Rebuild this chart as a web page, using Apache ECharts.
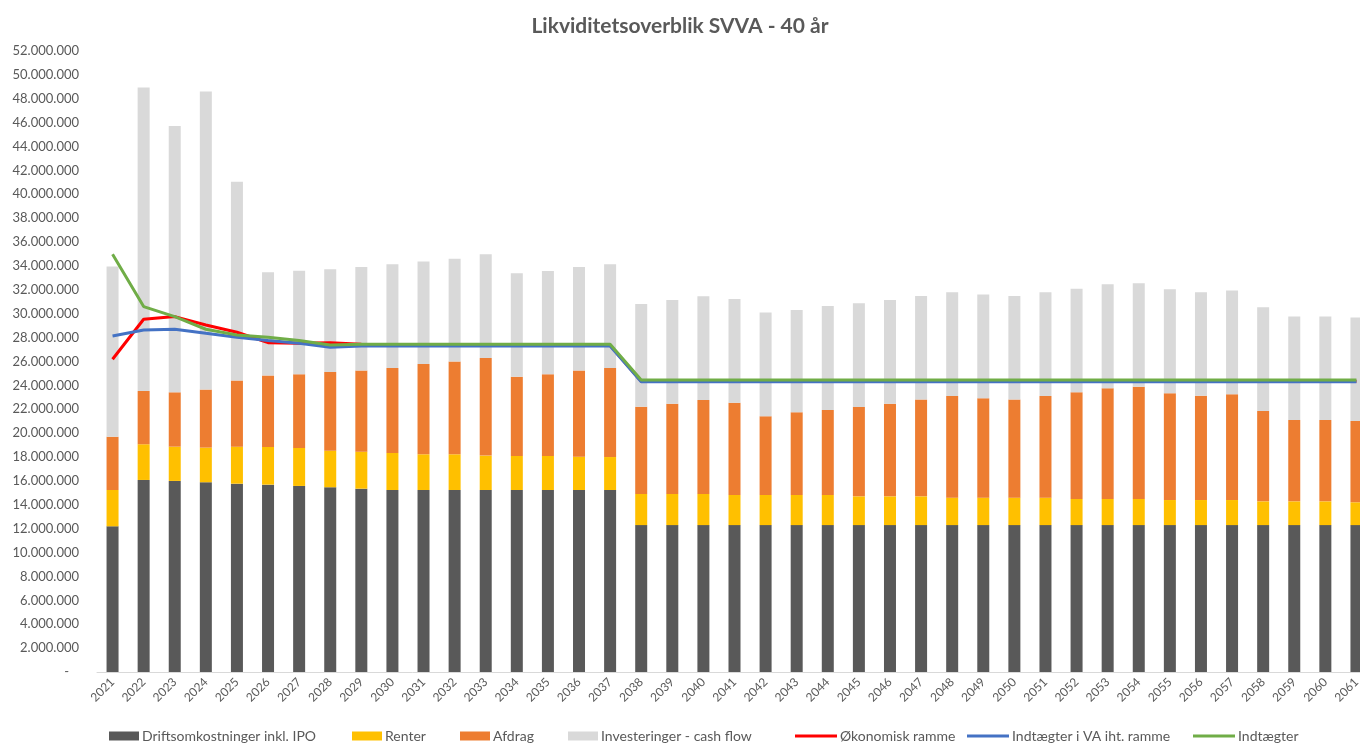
<!DOCTYPE html>
<html>
<head>
<meta charset="utf-8">
<title>Likviditetsoverblik SVVA - 40 år</title>
<script src="https://cdn.jsdelivr.net/npm/echarts@6/dist/echarts.min.js"></script>
<style>
  html, body { margin: 0; padding: 0; background: #ffffff; }
  #chart { width: 1360px; height: 744px; }
</style>
</head>
<body>
<div id="chart"></div>
<script>
// Years on the category axis
const years = [
  '2021','2022','2023','2024','2025','2026','2027','2028','2029','2030',
  '2031','2032','2033','2034','2035','2036','2037','2038','2039','2040',
  '2041','2042','2043','2044','2045','2046','2047','2048','2049','2050',
  '2051','2052','2053','2054','2055','2056','2057','2058','2059','2060','2061'
];

// Stacked cost components, in millions kr.
const driftsomkostninger = [
  12.20, 16.08, 16.00, 15.89, 15.77, 15.69, 15.58, 15.47, 15.35, 15.24,
  15.24, 15.24, 15.24, 15.24, 15.24, 15.24, 15.24, 12.30, 12.30, 12.30,
  12.30, 12.30, 12.30, 12.30, 12.30, 12.30, 12.30, 12.30, 12.30, 12.30,
  12.30, 12.30, 12.30, 12.30, 12.30, 12.30, 12.30, 12.30, 12.30, 12.30, 12.30
];
const renter = [
  3.04, 2.99, 2.87, 2.90, 3.10, 3.15, 3.18, 3.06, 3.10, 3.10,
  2.99, 2.99, 2.88, 2.85, 2.85, 2.79, 2.76, 2.61, 2.61, 2.61,
  2.52, 2.52, 2.52, 2.52, 2.41, 2.41, 2.41, 2.30, 2.30, 2.30,
  2.30, 2.19, 2.19, 2.19, 2.10, 2.10, 2.10, 1.99, 1.99, 1.99, 1.91
];
const afdrag = [
  4.46, 4.46, 4.55, 4.86, 5.53, 5.98, 6.17, 6.60, 6.79, 7.12,
  7.57, 7.76, 8.18, 6.64, 6.84, 7.21, 7.46, 7.31, 7.56, 7.87,
  7.73, 6.59, 6.93, 7.12, 7.48, 7.76, 8.10, 8.52, 8.32, 8.21,
  8.52, 8.93, 9.26, 9.40, 8.94, 8.74, 8.86, 7.57, 6.81, 6.81, 6.81
];
const investeringer = [
  14.25, 25.41, 22.31, 24.95, 16.66, 8.65, 8.67, 8.59, 8.68, 8.68,
  8.57, 8.61, 8.68, 8.66, 8.65, 8.68, 8.68, 8.60, 8.69, 8.68,
  8.69, 8.69, 8.57, 8.71, 8.68, 8.69, 8.68, 8.68, 8.68, 8.68,
  8.68, 8.68, 8.72, 8.66, 8.71, 8.66, 8.68, 8.68, 8.66, 8.66, 8.66
];

// Income / frame lines, in millions kr.
const oekonomiskRamme = [
  26.19, 29.54, 29.76, 29.06, 28.45, 27.58, 27.53, 27.58, 27.45, 27.35,
  27.35, 27.35, 27.35, 27.35, 27.35, 27.35, 27.35, 24.35, 24.35, 24.35,
  24.35, 24.35, 24.35, 24.35, 24.35, 24.35, 24.35, 24.35, 24.35, 24.35,
  24.35, 24.35, 24.35, 24.35, 24.35, 24.35, 24.35, 24.35, 24.35, 24.35, 24.35
];
const indtaegterVA = [
  28.14, 28.64, 28.70, 28.36, 28.03, 27.75, 27.53, 27.20, 27.30, 27.30,
  27.30, 27.30, 27.30, 27.30, 27.30, 27.30, 27.30, 24.30, 24.30, 24.30,
  24.30, 24.30, 24.30, 24.30, 24.30, 24.30, 24.30, 24.30, 24.30, 24.30,
  24.30, 24.30, 24.30, 24.30, 24.30, 24.30, 24.30, 24.30, 24.30, 24.30, 24.30
];
const indtaegter = [
  34.98, 30.60, 29.76, 28.70, 28.22, 28.03, 27.75, 27.39, 27.44, 27.45,
  27.45, 27.45, 27.45, 27.45, 27.45, 27.45, 27.45, 24.45, 24.45, 24.45,
  24.45, 24.45, 24.45, 24.45, 24.45, 24.45, 24.45, 24.45, 24.45, 24.45,
  24.45, 24.45, 24.45, 24.45, 24.45, 24.45, 24.45, 24.45, 24.45, 24.45, 24.45
];

const MIO = 1000000;
const toKr = arr => arr.map(v => Math.round(v * MIO));

const FONT = 'Lato, "Open Sans", sans-serif';
const TEXT = '#595959';

function formatKr(v) {
  if (v === 0) return '-   ';
  return String(Math.round(v)).replace(/\B(?=(\d{3})+(?!\d))/g, '.');
}

const barNames = ['Driftsomkostninger inkl. IPO', 'Renter', 'Afdrag', 'Investeringer - cash flow'];
const lineNames = ['Økonomisk ramme', 'Indtægter i VA iht. ramme', 'Indtægter'];

// One legend block per entry, so each key sits at its own spot in the row
const legendLeft = [104, 347, 455, 563, 790, 962, 1188];
const legends = barNames.concat(lineNames).map((name, i) => {
  const isLine = i >= barNames.length;
  return {
    data: [name],
    left: legendLeft[i],
    top: 724,
    icon: 'rect',
    itemWidth: isLine ? 42 : 30,
    itemHeight: isLine ? 3 : 9,
    itemGap: 0,
    textStyle: { color: TEXT, fontSize: 14, fontFamily: FONT, padding: [0, 0, 0, -2] }
  };
});

const barSeries = (name, data, color) => ({
  name, type: 'bar', stack: 'cost', data: toKr(data), barWidth: 12,
  itemStyle: { color }, emphasis: { disabled: true }
});
const lineSeries = (name, data, color) => ({
  name, type: 'line', data: toKr(data), showSymbol: false, symbol: 'none', z: 5,
  lineStyle: { color, width: 3 }, itemStyle: { color }, emphasis: { disabled: true }
});

const chart = echarts.init(document.getElementById('chart'), null, { renderer: 'canvas' });
chart.setOption({
  animation: false,
  backgroundColor: '#ffffff',
  title: {
    text: 'Likviditetsoverblik SVVA - 40 år',
    left: 'center',
    top: 11,
    textStyle: { color: TEXT, fontSize: 21, fontWeight: 'bold', fontFamily: FONT }
  },
  legend: legends,
  grid: { left: 97, top: 51, width: 1275, height: 621, outerBoundsMode: 'none', containLabel: false },
  xAxis: {
    type: 'category',
    data: years,
    axisLine: { lineStyle: { color: '#D9D9D9', width: 1 } },
    axisTick: { show: false },
    axisLabel: { rotate: 45, color: TEXT, fontSize: 12, fontFamily: FONT, margin: 8, interval: 0 }
  },
  yAxis: {
    type: 'value',
    min: 0,
    max: 52 * MIO,
    interval: 2 * MIO,
    axisLine: { show: false },
    axisTick: { show: false },
    splitLine: { show: false },
    axisLabel: { color: TEXT, fontSize: 13, fontFamily: FONT, margin: 18, formatter: formatKr }
  },
  series: [
    barSeries(barNames[0], driftsomkostninger, '#595959'),
    barSeries(barNames[1], renter, '#FFC000'),
    barSeries(barNames[2], afdrag, '#ED7D31'),
    barSeries(barNames[3], investeringer, '#D9D9D9'),
    lineSeries(lineNames[0], oekonomiskRamme, '#FF0000'),
    lineSeries(lineNames[1], indtaegterVA, '#4472C4'),
    lineSeries(lineNames[2], indtaegter, '#70AD47')
  ]
});
</script>
</body>
</html>
